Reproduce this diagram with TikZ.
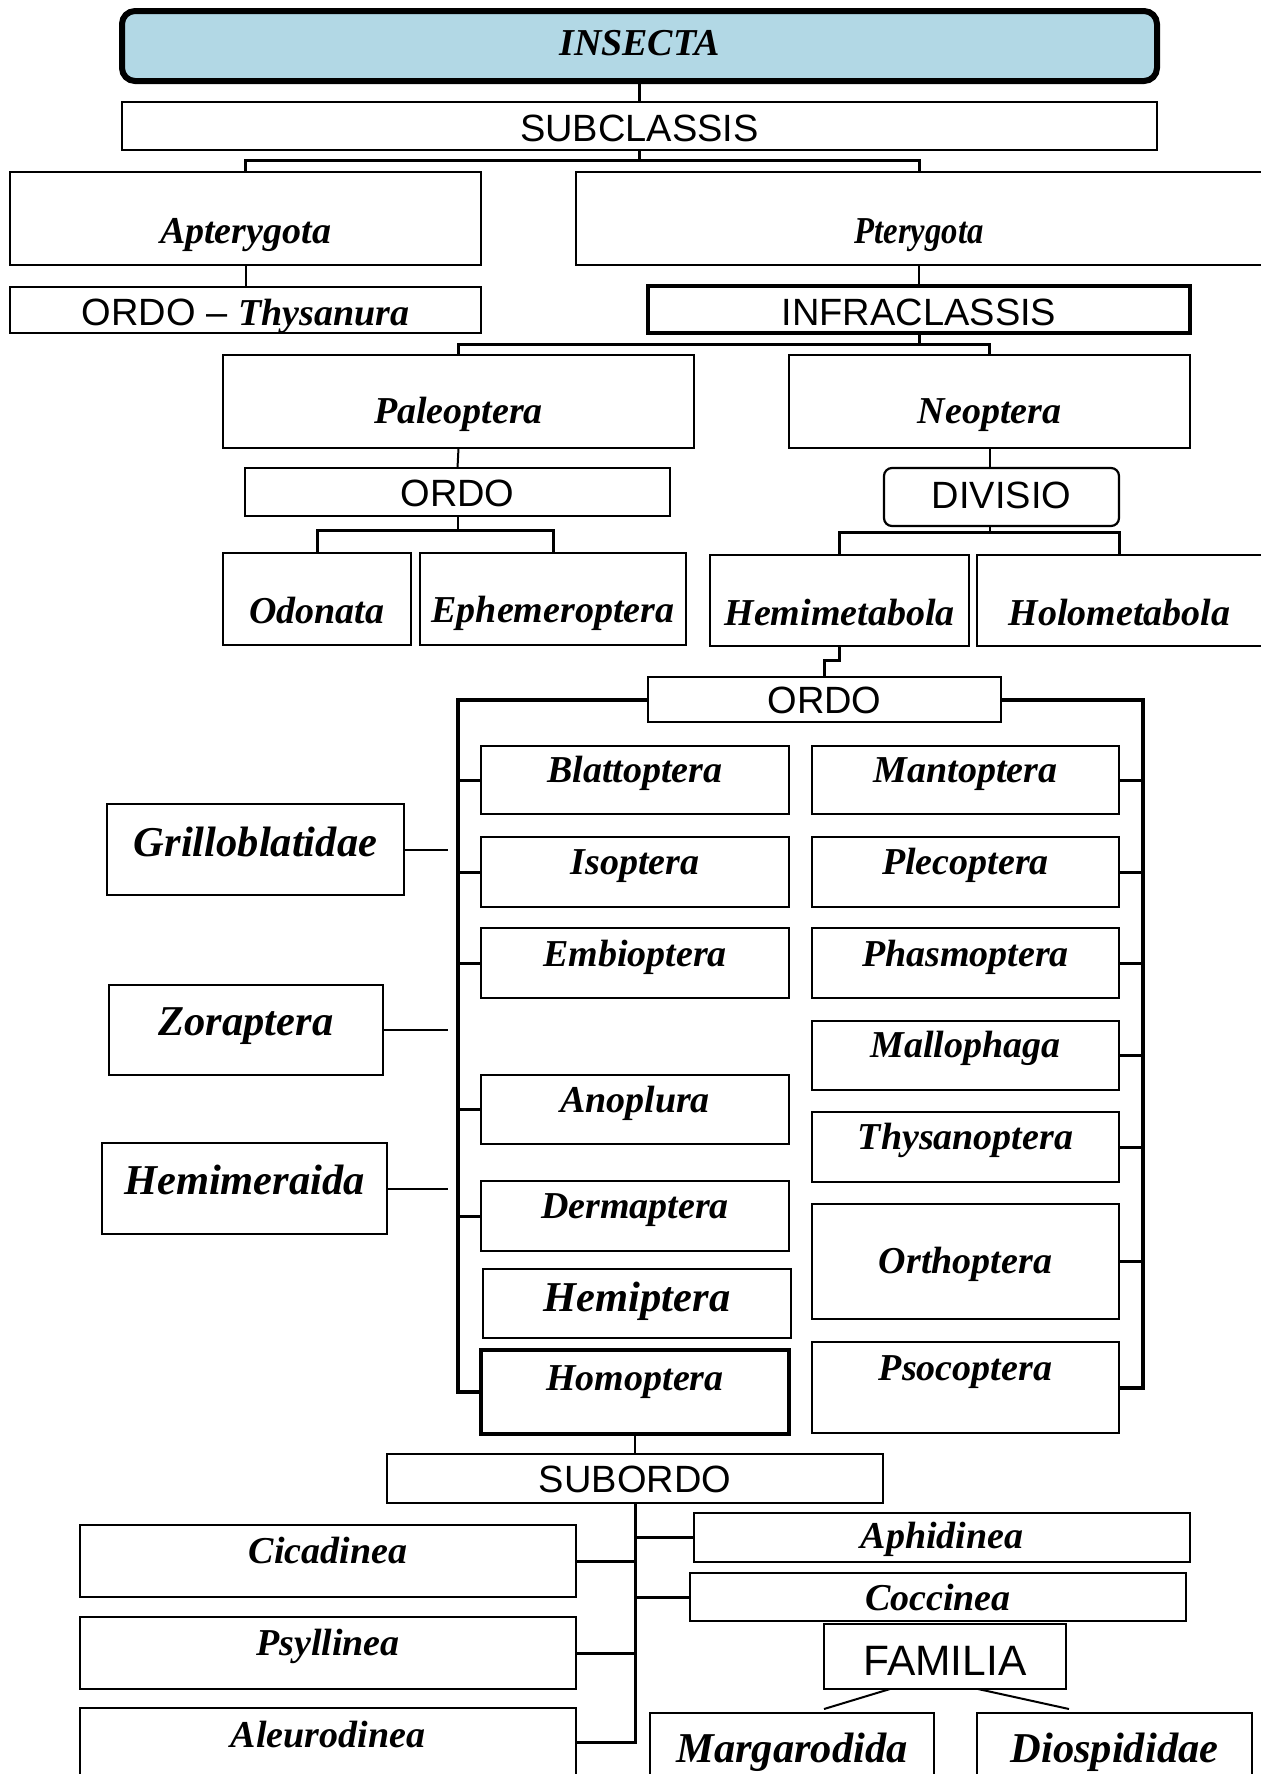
\documentclass[tikz,border=0pt]{standalone}
\usepackage{fontspec}
\setmainfont{Liberation Serif}
\newfontfamily\arialf{Liberation Sans}
\usetikzlibrary{calc}
\definecolor{insblue}{RGB}{178,216,229}
% #1 box style, #2 text style, #3 name, #4 x1, #5 y1, #6 x2, #7 y2, #8 baseline, #9 text
\newcommand{\bx}[9]{%
  \node[#1, minimum width={(#6-#4)*0.5pt}, minimum height={(#7-#5)*0.5pt}] (#3) at ({(#4+#6)/2},{(#5+#7)/2}) {};
  \node[#2, anchor=base, inner sep=0pt] (#3-t) at ({(#4+#6)/2},#8) {#9};}
\begin{document}
\begin{tikzpicture}[x=0.5pt,y=-0.5pt,
  box/.style={draw, line width=1.1pt, inner sep=0pt, outer sep=0pt},
  boxm/.style={box, line width=1.4pt},
  boxk/.style={box, line width=2pt},
  it/.style={font=\fontsize{19}{20}\selectfont\bfseries\itshape},
  itL/.style={font=\fontsize{21.25}{22}\selectfont\bfseries\itshape},
  cp/.style={font=\arialf\fontsize{19}{20}\selectfont},
  cpL/.style={font=\arialf\fontsize{21.25}{22}\selectfont},
  ln/.style={line width=1pt},
  br/.style={line width=1.5pt},
  bus/.style={line width=2pt}]
\useasboundingbox (0,0) rectangle (1260,1774);
\fill[white] (0,0) rectangle (1260,1774);
% top levels
\bx{box, line width=3pt, rounded corners=6.5pt, fill=insblue}{it}{ins}{122}{11}{1157}{81}{55}{INSECTA}
\bx{boxm}{cp}{sub}{122}{102}{1157}{150}{141}{SUBCLASSIS}
\bx{boxm}{it}{apt}{10}{172}{481}{265}{243}{Apterygota}
\bx{boxm}{it}{pter}{576}{172}{1262}{265}{243}{\scalebox{0.86}[1]{Pterygota}}
\bx{box}{cp}{thy}{10}{287}{481}{333}{325}{ORDO – {\rmfamily\bfseries\itshape Thysanura}}
\bx{boxk}{cp}{infra}{648}{286}{1190}{333}{325}{INFRACLASSIS}
\bx{boxm}{it}{pal}{223}{355}{694}{448}{423}{Paleoptera}
\bx{boxm}{it}{neo}{789}{355}{1190}{448}{423}{Neoptera}
\bx{boxm}{cp}{ord1}{245}{468}{670}{516}{506}{ORDO}
\bx{box, rounded corners=4pt}{cp}{div}{884}{468}{1119}{526}{508}{DIVISIO}
\bx{box}{it}{odo}{223}{553}{411}{645}{623}{Odonata}
\bx{box}{it}{eph}{420}{553}{686}{645}{622}{Ephemeroptera}
\bx{boxm}{it}{hemi}{710}{555}{969}{646}{625}{Hemimetabola}
\bx{boxm}{it}{holo}{977}{555}{1262}{646}{625}{Holometabola}
\bx{box}{cp}{ord2}{648}{677}{1001}{722}{713}{ORDO}
% left column
\bx{box}{it}{bla}{481}{746}{789}{814}{782}{Blattoptera}
\bx{box}{it}{iso}{481}{837}{789}{907}{874}{Isoptera}
\bx{box}{it}{emb}{481}{928}{789}{998}{966}{Embioptera}
\bx{box}{it}{ano}{481}{1075}{789}{1144}{1112}{Anoplura}
\bx{box}{it}{der}{481}{1181}{789}{1251}{1218}{Dermaptera}
\bx{box}{itL}{hemip}{483}{1269}{791}{1338}{1311}{Hemiptera}
\bx{boxk}{it}{homo}{481}{1350}{789}{1434}{1390}{Homoptera}
% right column
\bx{box}{it}{man}{812}{746}{1119}{814}{782}{Mantoptera}
\bx{box}{it}{ple}{812}{837}{1119}{907}{874}{Plecoptera}
\bx{box}{it}{pha}{812}{928}{1119}{998}{966}{Phasmoptera}
\bx{box}{it}{mal}{812}{1021}{1119}{1090}{1057}{Mallophaga}
\bx{box}{it}{ths}{812}{1112}{1119}{1182}{1149}{Thysanoptera}
\bx{box}{it}{ort}{812}{1204}{1119}{1319}{1273}{Orthoptera}
\bx{box}{it}{pso}{812}{1342}{1119}{1433}{1380}{Psocoptera}
% side boxes
\bx{box}{itL}{gri}{107}{804}{404}{895}{856}{Grilloblatidae}
\bx{box}{itL}{zor}{109}{985}{383}{1075}{1035}{Zoraptera}
\bx{box}{itL}{hmr}{102}{1143}{387}{1234}{1194}{Hemimeraida}
% bottom
\bx{boxm}{cp}{sbo}{387}{1454}{883}{1503}{1492}{SUBORDO}
\bx{box}{it}{cic}{80}{1525}{576}{1597}{1563}{Cicadinea}
\bx{box}{it}{psy}{80}{1617}{576}{1689}{1655}{Psyllinea}
\bx{box}{it}{ale}{80}{1708}{576}{1776}{1747}{Aleurodinea}
\bx{box}{it}{aph}{694}{1513}{1190}{1562}{1548}{Aphidinea}
\bx{box}{it}{coc}{690}{1573}{1186}{1621}{1610}{Coccinea}
\bx{box}{cpL}{fam}{824}{1624}{1066}{1689}{1675}{FAMILIA}
\bx{box}{itL}{mar}{650}{1713}{934}{1790}{1762}{Margarodida}
\bx{box}{itL}{dio}{977}{1713}{1252}{1790}{1762}{Diospididae}
% bus coordinates
\coordinate (busL) at (458,700);
\coordinate (busR) at (1143,700);
\coordinate (sideend) at (448,850);
% connectors
\draw[br] (ins.south) -- (sub.north);
\draw[br] (sub.south) -- ++(0,10);
\draw[br] (apt.north) -- ++(0,-12) -| (pter.north);
\draw[ln] (apt.south) -- (thy.north);
\draw[ln] (pter.south) -- (infra.north);
\draw[br] (infra.south) -- ++(0,11);
\draw[br] (pal.north) -- ++(0,-11) -| (neo.north);
\draw[ln] (pal.south) -- (ord1.north);
\draw[ln] (ord1.south) -- ++(0,14);
\draw[br] (odo.north) -- ++(0,-23) -| (eph.north);
\draw[ln] (neo.south) -- (neo.south |- div.north);
\draw[ln] (neo.south |- div.south) -- ++(0,6);
\draw[br] (hemi.north) -- ++(0,-23) -| (holo.north);
\draw[br] (hemi.south) -- ++(0,14) -| (ord2.north);
\draw[bus] (ord2.west) -| (busL |- homo.west) -- (homo.west);
\draw[bus] (ord2.east) -| (busR |- pso.east) -- (pso.east);
\foreach \nm in {bla,iso,emb,ano,der}{\draw[br] (busL |- \nm.west) -- (\nm.west);}
\foreach \nm in {man,ple,pha,mal,ths,ort}{\draw[br] (busR |- \nm.east) -- (\nm.east);}
\foreach \nm in {gri,zor,hmr}{\draw[ln] (\nm.east) -- (sideend |- \nm.east);}
\draw[ln] (homo.south) -- (sbo.north);
\draw[br] (sbo.south) -- (sbo.south |- ale.east) -- (ale.east);
\foreach \nm in {cic,psy}{\draw[br] (sbo.south |- \nm.east) -- (\nm.east);}
\foreach \nm in {aph,coc}{\draw[br] (sbo.south |- \nm.west) -- (\nm.west);}
\draw[ln] ([xshift=-27.5pt]fam.south) -- ([xshift=16pt,yshift=2pt]mar.north);
\draw[ln] ([xshift=16.5pt]fam.south) -- ([xshift=-22.75pt,yshift=2pt]dio.north);
\end{tikzpicture}
\end{document}
